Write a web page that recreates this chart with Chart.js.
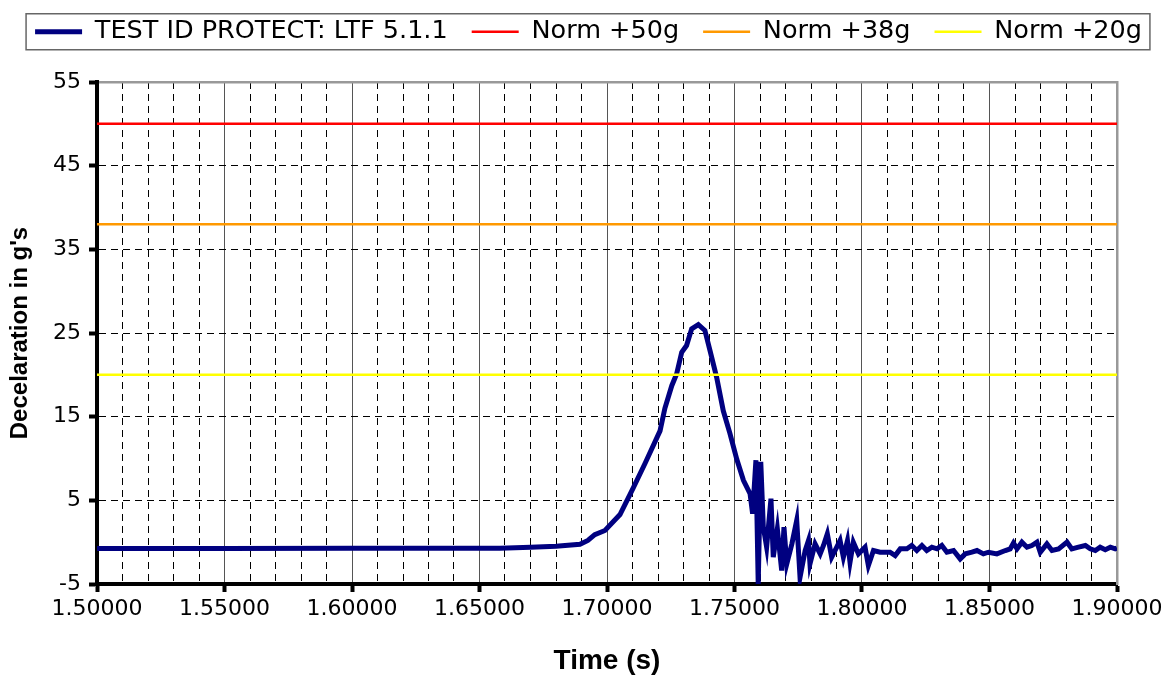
<!DOCTYPE html>
<html>
<head>
<meta charset="utf-8">
<script src="https://cdn.jsdelivr.net/npm/chart.js@4.4.1/dist/chart.umd.min.js"></script>
<style>
  html, body { margin: 0; padding: 0; background: #fff; }
  #wrap { width: 1169px; height: 675px; }
</style>
</head>
<body>
<div id="wrap"><canvas id="chart" width="1169" height="675"></canvas></div>
<script>
// values
const seriesLabel = "TEST ID PROTECT: LTF 5.1.1";
const times = [
    1.500, 1.550, 1.600, 1.640, 1.658, 1.670, 1.680, 1.6894, 1.6925, 1.6952,
    1.6992, 1.7051, 1.7103, 1.7149, 1.7208, 1.7227, 1.7254, 1.7273, 1.7293, 1.7312,
    1.7332, 1.7358, 1.7384, 1.7404, 1.7430, 1.7456, 1.7482, 1.7509, 1.7535, 1.7561,
    1.7571, 1.7584, 1.7593, 1.7603, 1.7613, 1.7626, 1.7643, 1.7652, 1.7668, 1.7685,
    1.7694, 1.7705, 1.7725, 1.7744, 1.7757, 1.7777, 1.7790, 1.7796, 1.7816, 1.7836,
    1.7849, 1.7864, 1.7881, 1.7901, 1.7914, 1.7927, 1.7943, 1.7953, 1.7966, 1.7986,
    1.8012, 1.8025, 1.8045, 1.8071, 1.8110, 1.8130, 1.8150, 1.8176, 1.8195, 1.8215,
    1.8235, 1.8254, 1.8274, 1.8294, 1.8313, 1.8333, 1.8359, 1.8385, 1.8405, 1.8431,
    1.8451, 1.8476, 1.8496, 1.8529, 1.8562, 1.8581, 1.8594, 1.8608, 1.8627, 1.8647,
    1.8666, 1.8686, 1.8699, 1.8725, 1.8745, 1.8771, 1.8804, 1.8823, 1.8849, 1.8876,
    1.8895, 1.8915, 1.8934, 1.8954, 1.8974, 1.8993, 1.9000
];
const decel = [
    -0.75, -0.75, -0.74, -0.73, -0.72, -0.62, -0.50, -0.25, 0.2, 0.9,
    1.4, 3.3, 6.5, 9.4, 13.3, 16.0, 18.7, 20.1, 22.7, 23.5,
    25.5, 26.0, 25.3, 22.9, 19.7, 15.7, 13.0, 9.9, 7.4, 5.8,
    3.4, 9.8, -5.0, 9.6, 1.8, -0.6, 5.2, -1.8, 1.6, -3.4,
    1.8, -2.6, -0.2, 2.6, -4.2, -1.0, 0.2, -2.6, -0.2, -1.4,
    -0.4, 1.0, -1.8, -0.6, 0.2, -1.8, 0.2, -2.4, 0.0, -1.4,
    -0.6, -2.8, -1.0, -1.2, -1.2, -1.6, -0.8, -0.8, -0.4, -1.0,
    -0.4, -1.0, -0.6, -0.8, -0.4, -1.2, -1.0, -2.0, -1.4, -1.2,
    -1.0, -1.4, -1.2, -1.4, -1.0, -0.8, -0.1, -0.8, 0.0, -0.6,
    -0.4, 0.0, -1.2, -0.2, -1.0, -0.8, 0.0, -0.8, -0.6, -0.4,
    -0.8, -1.0, -0.6, -0.9, -0.6, -0.8, -0.7
];
const normLabels = ["Norm +50g", "Norm +38g", "Norm +20g"];
const normValues = [50, 38, 20];
const xRange = [1.5, 1.9];
const yRange = [-5, 55];

const normColors = ["#ff0000", "#ff9900", "#ffff00"];
const isMajor = (v) => Math.abs(v * 20 - Math.round(v * 20)) < 1e-6;
const isEdge = (v, r) => Math.abs(v - r[0]) < 1e-9 || Math.abs(v - r[1]) < 1e-9;

const datasets = [{
    label: seriesLabel,
    data: times.map((t, i) => ({ x: t, y: decel[i] })),
    borderColor: "#000080",
    borderWidth: 5,
    pointRadius: 0,
    order: 1,
}].concat(normLabels.map((lbl, i) => ({
    label: lbl,
    data: xRange.map((t) => ({ x: t, y: normValues[i] })),
    borderColor: normColors[i],
    borderWidth: 2.5,
    pointRadius: 0,
    order: 0,
})));

// frame round the legend, worked out from the legend's own item boxes
const legendFrame = {
    id: "legendFrame",
    afterDraw(chart) {
        const lg = chart.legend;
        const boxes = lg.legendHitBoxes;
        if (!boxes || !boxes.length) return;
        const pad = lg.options.labels.padding;
        const last = boxes[boxes.length - 1];
        const right = last.left + last.width;
        const total = boxes.reduce((s, b) => s + b.width, 0) + pad * (boxes.length - 1);
        const cy = last.top + last.height / 2;
        const ctx = chart.ctx;
        ctx.save();
        ctx.strokeStyle = "#666";
        ctx.lineWidth = 1.5;
        ctx.strokeRect(right - total - 9, cy - 18, total + 17, 36);
        ctx.restore();
    },
};

const tickFont = { family: "DejaVu Sans", size: 22 };

new Chart(document.getElementById("chart").getContext("2d"), {
    type: "line",
    data: { datasets },
    plugins: [legendFrame],
    options: {
        responsive: false,
        animation: false,
        layout: { padding: { top: -5, left: 8, right: 0, bottom: 0 } },
        plugins: {
            tooltip: { enabled: false },
            legend: {
                position: "top",
                labels: {
                    usePointStyle: true,
                    pointStyle: "line",
                    pointStyleWidth: 47,
                    padding: 24,
                    color: "#000",
                    font: { family: "DejaVu Sans", size: 25.5 },
                    sort: (a, b) => a.datasetIndex - b.datasetIndex,
                },
            },
        },
        scales: {
            x: {
                type: "linear",
                position: "bottom",
                min: xRange[0],
                max: xRange[1],
                afterFit: (s) => { s.height = 91; },
                ticks: {
                    stepSize: 0.05,
                    autoSkip: false,
                    maxRotation: 0,
                    padding: 4,
                    color: "#000",
                    font: tickFont,
                    callback: (v) => v.toFixed(5),
                },
                grid: {
                    color: (c) => (c.tick && isEdge(c.tick.value, xRange) ? "rgba(0,0,0,0)" : "#555"),
                    lineWidth: 1,
                    tickLength: 8,
                    tickWidth: 4,
                    tickColor: "#000",
                },
                border: { color: "#000", width: 4 },
                title: {
                    display: true, text: "Time (s)", color: "#000",
                    font: { family: "Liberation Sans", weight: "bold", size: 28, lineHeight: 1 },
                    padding: { top: 0, bottom: 0 },
                },
            },
            xMinor: {
                type: "linear",
                position: "bottom",
                min: xRange[0],
                max: xRange[1],
                ticks: { display: false, stepSize: 0.01, autoSkip: false, maxTicksLimit: 100 },
                grid: {
                    drawTicks: false,
                    color: (c) => (c.tick && (isMajor(c.tick.value) || isEdge(c.tick.value, xRange)) ? "rgba(0,0,0,0)" : "#000"),
                    lineWidth: 1,
                },
                border: { display: false, dash: [7, 5] },
            },
            xTop: {
                type: "linear",
                position: "top",
                min: xRange[0],
                max: xRange[1],
                afterFit: (s) => { s.height = 27.5; },
                ticks: { display: false },
                grid: { display: false },
                border: { color: "#999", width: 2.5 },
            },
            y: {
                min: yRange[0],
                max: yRange[1],
                afterFit: (s) => { s.width = 89; },
                ticks: { stepSize: 10, padding: 8, color: "#000", font: tickFont },
                grid: {
                    color: (c) => (c.tick && isEdge(c.tick.value, yRange) ? "rgba(0,0,0,0)" : "#000"),
                    lineWidth: 1,
                    tickLength: 8,
                    tickWidth: 4,
                    tickColor: "#000",
                },
                border: { color: "#000", width: 4, dash: [7, 5] },
                title: {
                    display: true, text: "Decelaration in g's", color: "#000",
                    font: { family: "Liberation Sans", weight: "bold", size: 24, lineHeight: 1 },
                    padding: { top: 0, bottom: 0 },
                },
            },
            yRight: {
                position: "right",
                min: yRange[0],
                max: yRange[1],
                afterFit: (s) => { s.width = 52; },
                ticks: { display: false },
                grid: { display: false },
                border: { color: "#999", width: 2.5 },
            },
        },
    },
});
</script>
</body>
</html>
